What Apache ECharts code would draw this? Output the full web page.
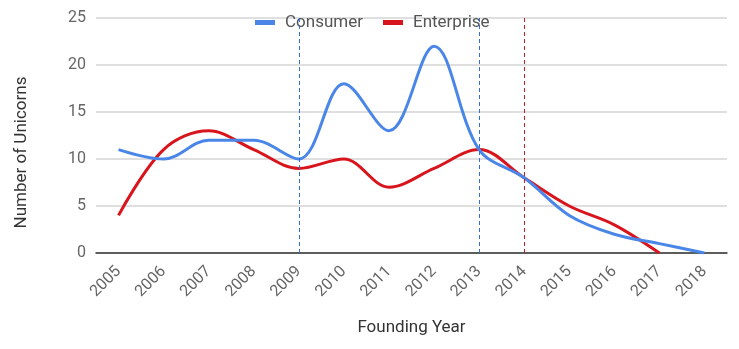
<!DOCTYPE html>
<html>
<head>
<meta charset="utf-8">
<script src="https://cdn.jsdelivr.net/npm/echarts@6/dist/echarts.min.js"></script>
<style>
  html, body { margin: 0; padding: 0; background: #fff; }
  #chart { width: 739px; height: 349px; }
</style>
</head>
<body>
<div id="chart"></div>
<script>
// Unicorns by founding year, split by market
const years = ['2005','2006','2007','2008','2009','2010','2011','2012','2013','2014','2015','2016','2017','2018'];
const consumer = [11, 10, 12, 12, 10, 18, 13, 22, 11, 8, 4, 2, 1, 0];
const enterprise = [4, 11, 13, 11, 9, 10, 7, 9, 11, 8, 5, 3, 0, null];
const yTicks = { min: 0, max: 25, interval: 5 };
// Years marked with dashed reference lines, grouped by the series they belong to
const consumerMarks = ['2009', '2013'];
const enterpriseMarks = ['2014'];

const FONT = 'Roboto, "Liberation Sans", Arial, sans-serif';
const BLUE = '#4a86e8';
const RED = '#d8141c';

function dashedLines(list, color) {
  return {
    silent: true,
    symbol: ['none', 'none'],
    label: { show: false },
    emphasis: { disabled: true },
    lineStyle: { color: color, type: [4, 3], width: 1, opacity: 1 },
    data: list.map(y => ({ xAxis: y }))
  };
}

const chart = echarts.init(document.getElementById('chart'), null, { renderer: 'canvas' });
chart.setOption({
  animation: false,
  textStyle: { fontFamily: FONT },
  legend: {
    top: 9,
    left: 250,
    itemWidth: 20,
    itemHeight: 5,
    itemGap: 20,
    icon: 'rect',
    textStyle: { fontSize: 17, color: '#555', fontFamily: FONT, padding: [0, 0, 0, 5] },
    data: ['Consumer', 'Enterprise']
  },
  grid: { left: 96, right: 12, top: 18, bottom: 96, containLabel: false },
  xAxis: {
    type: 'category',
    data: years,
    boundaryGap: true,
    name: 'Founding Year',
    nameLocation: 'middle',
    nameGap: 66,
    nameTextStyle: { fontSize: 17, color: '#333', fontFamily: FONT },
    axisLine: { lineStyle: { color: '#333', width: 1.5 } },
    axisTick: { show: false },
    axisLabel: { rotate: 45, fontSize: 16, color: '#666', fontFamily: FONT, margin: 16 }
  },
  yAxis: {
    type: 'value',
    min: yTicks.min,
    max: yTicks.max,
    interval: yTicks.interval,
    name: 'Number of Unicorns',
    nameLocation: 'middle',
    nameGap: 66,
    nameTextStyle: { fontSize: 17, color: '#333', fontFamily: FONT, padding: [0, 34, 0, 0] },
    axisLine: { show: false },
    axisTick: { show: false },
    axisLabel: { fontSize: 16, color: '#666', fontFamily: FONT, margin: 10 },
    splitLine: { lineStyle: { color: '#d4d4d4', width: 1.5 } }
  },
  series: [
    {
      name: 'Consumer',
      type: 'line',
      data: consumer,
      smooth: 0.35,
      symbol: 'none',
      color: BLUE,
      lineStyle: { width: 3, color: BLUE },
      z: 3,
      markLine: dashedLines(consumerMarks, '#2f6fd6')
    },
    {
      name: 'Enterprise',
      type: 'line',
      data: enterprise,
      smooth: 0.35,
      symbol: 'none',
      color: RED,
      lineStyle: { width: 3, color: RED },
      z: 2,
      markLine: dashedLines(enterpriseMarks, '#c62020')
    }
  ]
});
</script>
</body>
</html>
